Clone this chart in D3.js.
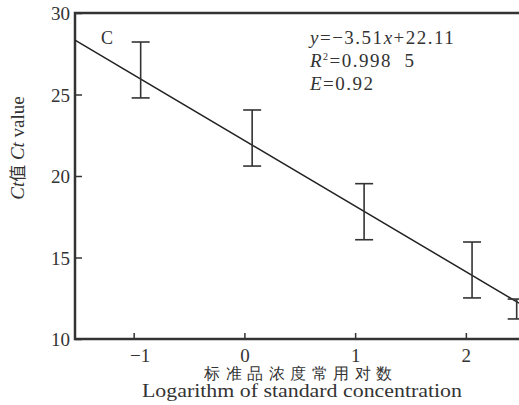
<!DOCTYPE html>
<html><head><meta charset="utf-8">
<script src="https://cdn.jsdelivr.net/npm/d3@7"></script>
<style>body{margin:0;background:#fff;} svg{display:block;} text{font-family:"Liberation Serif","Times New Roman",serif;fill:#333;}</style>
</head><body>
<svg id="c" width="519" height="405"></svg>
<script>
// data
const pointX = [-0.937, 0.07, 1.081, 2.056, 2.459];
const upperCt = [28.22, 24.05, 19.53, 15.95, 12.45];
const lowerCt = [24.79, 20.61, 16.09, 12.52, 11.23];
const fitX = [-1.53, 2.48];
const fitY = [28.34, 12.2];
const xTicks = [-1, 0, 1, 2];
const yTicks = [10, 15, 20, 25, 30];

const svg = d3.select("#c");
const L = 75, T = 13, B = 339, R = 519;
const x = d3.scaleLinear().domain([-1.53, 2.48]).range([L, R]);
const y = d3.scaleLinear().domain([10, 30]).range([B, T]);
const ink = "#333";

// frame
svg.append("rect").attr("x", L).attr("y", T).attr("width", R - L + 10).attr("height", B - T)
  .attr("fill", "none").attr("stroke", ink).attr("stroke-width", 2.5);

// x axis
const xa = svg.append("g").attr("transform", `translate(0,${B})`)
  .call(d3.axisBottom(x).tickValues(xTicks).tickSizeInner(-6).tickSizeOuter(0)
    .tickFormat(d => d < 0 ? "\u2212" + Math.abs(d) : String(d)));
xa.select(".domain").remove();
xa.selectAll(".tick line").attr("stroke", ink).attr("stroke-width", 1.5);
xa.selectAll(".tick text").attr("y", 0).attr("dy", 0).attr("transform", "translate(0,22.5)")
  .attr("font-size", 19).attr("fill", ink).attr("font-family", '"Liberation Serif",serif')
  .attr("dx", d => d < 0 ? 6 : 0);

// y axis
const ya = svg.append("g").attr("transform", `translate(${L},0)`)
  .call(d3.axisLeft(y).tickValues(yTicks).tickSizeInner(-7).tickSizeOuter(0));
ya.select(".domain").remove();
ya.selectAll(".tick line").attr("stroke", ink).attr("stroke-width", 1.5);
ya.selectAll(".tick text").attr("x", -5).attr("dy", "0.36em").attr("font-size", 19)
  .attr("fill", ink).attr("font-family", '"Liberation Serif",serif');

// fit line
svg.append("path").datum(fitX.map((d, i) => [d, fitY[i]]))
  .attr("d", d3.line().x(d => x(d[0])).y(d => y(d[1])))
  .attr("fill", "none").attr("stroke", "#222").attr("stroke-width", 1.5);

// error bars
const eb = svg.append("g").attr("stroke", "#333").attr("stroke-width", 1.6);
pointX.forEach((px, i) => {
  const cx = x(px);
  eb.append("line").attr("x1", cx).attr("x2", cx).attr("y1", y(upperCt[i])).attr("y2", y(lowerCt[i]));
  eb.append("line").attr("x1", cx - 9).attr("x2", cx + 9).attr("y1", y(upperCt[i])).attr("y2", y(upperCt[i]));
  eb.append("line").attr("x1", cx - 9).attr("x2", cx + 9).attr("y1", y(lowerCt[i])).attr("y2", y(lowerCt[i]));
});

// panel label
svg.append("text").attr("x", 101).attr("y", 44).attr("font-size", 18).text("C");

// equation
const eq = svg.append("g").attr("font-size", 19).attr("letter-spacing", 1.5);
const t1 = eq.append("text").attr("x", 310).attr("y", 44);
t1.append("tspan").attr("font-style", "italic").text("y");
t1.append("tspan").text("=\u22123.51");
t1.append("tspan").attr("font-style", "italic").text("x");
t1.append("tspan").text("+22.11");
const t2 = eq.append("text").attr("x", 310).attr("y", 67);
t2.append("tspan").attr("font-style", "italic").text("R");
t2.append("tspan").attr("font-size", 10).attr("dy", -7).text("2");
t2.append("tspan").attr("dy", 7).text("=0.998\u00a0\u00a05");
const t3 = eq.append("text").attr("x", 310).attr("y", 90);
t3.append("tspan").attr("font-style", "italic").text("E");
t3.append("tspan").text("=0.92");

// x axis titles
svg.append("text").attr("x", 301).attr("y", 378.5).attr("text-anchor", "middle")
  .attr("font-size", 16).attr("letter-spacing", 5.5)
  .attr("font-family", '"Noto Sans CJK SC",sans-serif').text("标准品浓度常用对数");
svg.append("text").attr("x", 142).attr("y", 397).attr("font-size", 18)
  .attr("textLength", 320).attr("lengthAdjust", "spacingAndGlyphs")
  .text("Logarithm of standard concentration");

// y axis title
const yt = svg.append("text").attr("transform", "translate(24,148) rotate(-90)")
  .attr("text-anchor", "middle").attr("font-size", 19);
yt.append("tspan").attr("font-style", "italic").text("Ct");
yt.append("tspan").attr("font-family", '"Noto Sans CJK SC",sans-serif').attr("font-size", 17).text("值");
yt.append("tspan").text(" ");
yt.append("tspan").attr("font-style", "italic").text("Ct");
yt.append("tspan").text(" value");
</script>
</body></html>
